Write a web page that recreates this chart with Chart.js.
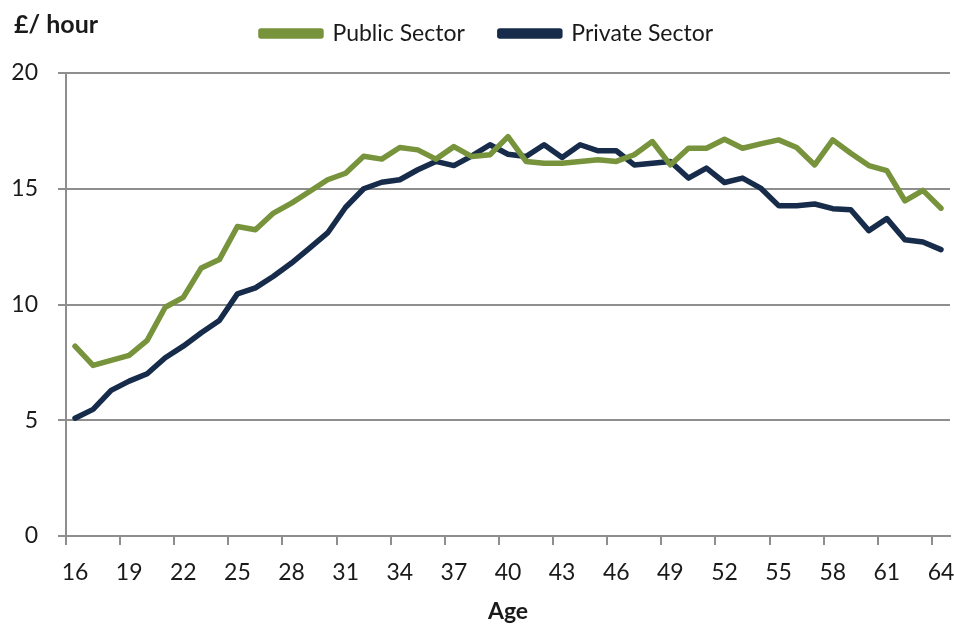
<!DOCTYPE html>
<html>
<head>
<meta charset="utf-8">
<script src="https://cdn.jsdelivr.net/npm/chart.js@4"></script>
<style>
  html, body { margin: 0; padding: 0; background: #ffffff; }
  #wrap { width: 954px; height: 625px; }
</style>
</head>
<body>
<div id="wrap"><canvas id="c" width="954" height="625"></canvas></div>
<script>
const ages = [16,17,18,19,20,21,22,23,24,25,26,27,28,29,30,31,32,33,34,35,36,37,38,39,40,41,42,43,44,45,46,47,48,49,50,51,52,53,54,55,56,57,58,59,60,61,62,63,64];
const publicSector = [8.2,7.37,7.59,7.8,8.45,9.88,10.31,11.58,11.94,13.37,13.23,13.95,14.38,14.88,15.39,15.67,16.4,
  16.28,16.78,16.68,16.28,16.82,16.39,16.47,17.25,16.18,16.1,16.1,16.18,16.25,16.18,16.47,
  17.04,16.03,16.75,16.75,17.14,16.75,16.94,17.11,16.78,16.03,17.11,16.53,16.0,15.78,14.48,14.93,14.16];
const privateSector = [5.09,5.47,6.29,6.69,7.01,7.7,8.2,8.78,9.31,10.46,10.72,11.22,11.79,12.44,13.09,14.2,15.0,
  15.28,15.39,15.82,16.18,16.0,16.42,16.9,16.49,16.39,16.9,16.35,16.9,16.64,16.64,16.03,
  16.1,16.18,15.46,15.89,15.27,15.46,15.03,14.27,14.27,14.34,14.14,14.09,13.19,13.71,12.8,12.7,12.37];
const seriesNames = ['Public Sector', 'Private Sector'];
const yTicks = [0, 5, 10, 15, 20];
const unitLabel = '£/ hour';
const xTitle = 'Age';

const FONT = 'Lato, "Liberation Sans", sans-serif';
const GREEN = '#77933c';
const NAVY = '#172c4a';
const GRID = '#8e8e8e';

const unitPlugin = {
  id: 'unitLabel',
  afterLayout(chart) {
    const lg = chart.legend;
    if (lg) {
      const h = lg.bottom - lg.top;
      lg.left = 24; lg.right = 950; lg.width = lg.right - lg.left;
      lg.top = -13; lg.bottom = lg.top + h;
    }
  },
  afterDraw(chart) {
    const ctx = chart.ctx;
    ctx.save();
    ctx.font = 'bold 25px ' + FONT;
    ctx.fillStyle = '#1a1a1a';
    ctx.textAlign = 'left';
    ctx.textBaseline = 'middle';
    ctx.fillText(unitLabel, 14, 25);
    ctx.restore();
  }
};

new Chart(document.getElementById('c'), {
  type: 'line',
  data: {
    labels: ages,
    datasets: [
      { label: seriesNames[0], data: publicSector, borderColor: GREEN, backgroundColor: GREEN,
        borderWidth: 5.5, pointRadius: 0, tension: 0, borderJoinStyle: 'round', borderCapStyle: 'round' },
      { label: seriesNames[1], data: privateSector, borderColor: NAVY, backgroundColor: NAVY,
        borderWidth: 5.5, pointRadius: 0, tension: 0, borderJoinStyle: 'round', borderCapStyle: 'round' }
    ]
  },
  options: {
    responsive: false,
    animation: false,
    devicePixelRatio: 1,
    layout: { padding: { left: 0, right: 4, top: 5, bottom: 0 } },
    plugins: {
      legend: {
        display: true,
        position: 'top',
        align: 'center',
        labels: {
          boxWidth: 60,
          boxHeight: 5,
          padding: 35,
          color: '#1a1a1a',
          font: { family: FONT, size: 23 }
        }
      },
      tooltip: { enabled: false }
    },
    scales: {
      x: {
        type: 'category',
        offset: true,
        afterFit(scale) { scale.height = 89; scale.paddingRight = 0; scale.paddingLeft = 0; },
        grid: {
          offset: true,
          drawOnChartArea: false,
          drawTicks: true,
          tickLength: 9,
          lineWidth: 2,
          color: (ctx) => (ctx.type === 'tick' && ctx.index % 3 === 0) ? GRID : 'rgba(0,0,0,0)'
        },
        border: { display: true, color: GRID, width: 2 },
        ticks: {
          autoSkip: false,
          maxRotation: 0,
          minRotation: 0,
          padding: 14,
          color: '#1a1a1a',
          font: { family: FONT, size: 23 },
          callback: function(value, index) { return index % 3 === 0 ? this.getLabelForValue(value) : ''; }
        },
        title: {
          display: true,
          text: xTitle,
          color: '#1a1a1a',
          font: { family: FONT, size: 23, weight: 'bold' },
          padding: { top: 4, bottom: 0 }
        }
      },
      y: {
        min: 0,
        max: 20,
        afterFit(scale) { scale.width = 66; },
        afterBuildTicks(scale) { scale.ticks = yTicks.map(v => ({ value: v })); },
        grid: {
          color: GRID,
          lineWidth: 2,
          drawTicks: true,
          tickLength: 8
        },
        border: { display: true, color: GRID, width: 2 },
        ticks: {
          padding: 20,
          color: '#1a1a1a',
          font: { family: FONT, size: 23 }
        }
      }
    }
  },
  plugins: [unitPlugin]
});
</script>
</body>
</html>
